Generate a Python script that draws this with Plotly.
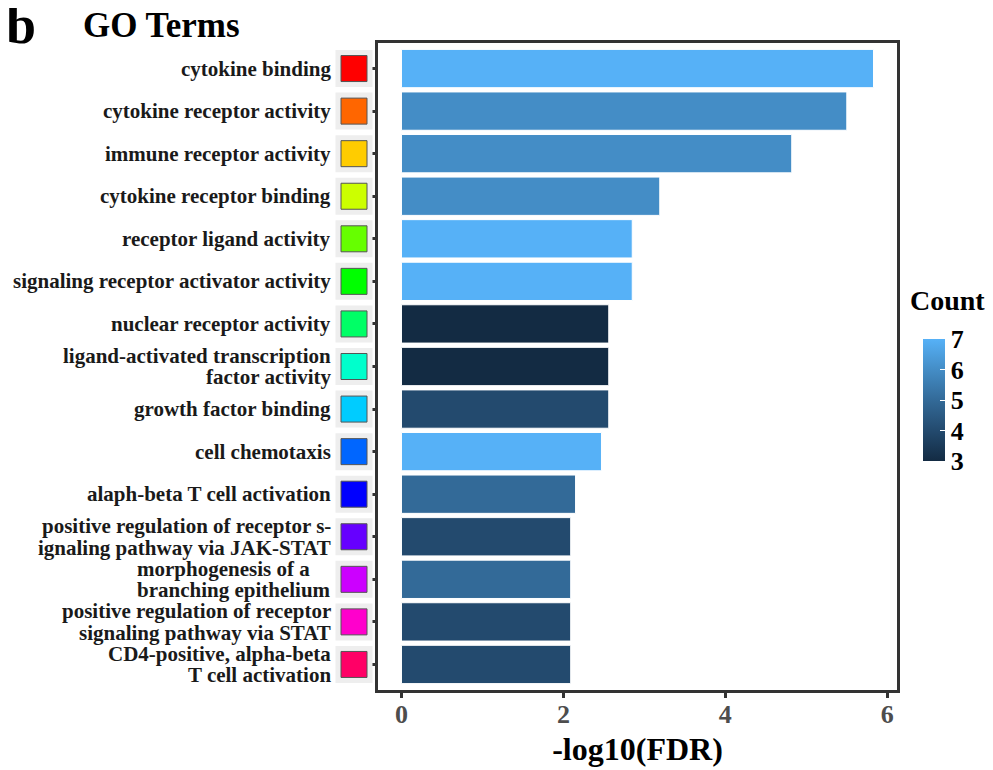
import plotly.graph_objects as go

terms = [
    "cytokine binding",
    "cytokine receptor activity",
    "immune receptor activity",
    "cytokine receptor binding",
    "receptor ligand activity",
    "signaling receptor activator activity",
    "nuclear receptor activity",
    "ligand-activated transcription<br>factor activity",
    "growth factor binding",
    "cell chemotaxis",
    "alaph-beta T cell activation",
    "positive regulation of receptor s-<br>ignaling pathway via JAK-STAT",
    "morphogenesis of a\u00a0\u00a0\u00a0\u00a0<br>branching epithelium",
    "positive regulation of receptor<br>signaling pathway via STAT",
    "CD4-positive, alpha-beta<br>T cell activation",
]
neg_log10_fdr = [5.83, 5.50, 4.82, 3.19, 2.85, 2.85, 2.56, 2.56, 2.56, 2.47, 2.15, 2.09, 2.09, 2.09, 2.09]
counts = [7, 6, 6, 6, 7, 7, 3, 3, 4, 7, 5, 4, 5, 4, 4]
term_colors = ["#FF0000", "#FF6600", "#FFCC00", "#CCFF00", "#66FF00", "#00FF00", "#00FF66",
               "#00FFCC", "#00CCFF", "#0066FF", "#0000FF", "#6600FF", "#CC00FF", "#FF00CC", "#FF0066"]
x_ticks = [0, 2, 4, 6]
count_ticks = [3, 4, 5, 6, 7]

# page offset (browser body margin) and figure size
OFF = 8
W, H = 993 - OFF, 770 - OFF
def px(x):
    return (x - OFF) / W
def py(y):
    return 1 - (y - OFF) / H

SERIF = "Liberation Serif, Times New Roman, serif"
colorscale = [[0, "#132B43"], [0.25, "#234A6E"], [0.5, "#336A98"], [0.75, "#448DC6"], [1, "#56B1F7"]]

fig = go.Figure()

fig.add_trace(go.Bar(
    x=neg_log10_fdr, y=terms, orientation="h", width=0.9,
    marker=dict(color=counts, colorscale=colorscale, cmin=3, cmax=7,
                line=dict(color="white", width=1),
                showscale=True,
                colorbar=dict(
                    x=px(923), xanchor="left", xpad=0,
                    y=py(400), yanchor="middle", ypad=0,
                    len=122, lenmode="pixels", thickness=22, thicknessmode="pixels",
                    outlinewidth=0, ticks="inside", ticklen=5, tickcolor="white", tickwidth=1,
                    tickvals=count_ticks,
                    tickfont=dict(family=SERIF, size=26, color="black", weight="bold"),
                )),
    xaxis="x", yaxis="y", showlegend=False, hoverinfo="x+y",
))

# grey key backgrounds
fig.add_trace(go.Scatter(
    x=[0.5] * len(terms), y=terms, mode="markers",
    marker=dict(symbol="square", size=37, color="#EEEEEE", line=dict(width=0)),
    xaxis="x2", yaxis="y2", showlegend=False, hoverinfo="skip",
))
# coloured keys
fig.add_trace(go.Scatter(
    x=[0.5] * len(terms), y=terms, mode="markers",
    marker=dict(symbol="square", size=26, color=term_colors, line=dict(width=1, color="#555555")),
    xaxis="x2", yaxis="y2", showlegend=False, hoverinfo="y",
))

frame = dict(showline=True, mirror=True, linecolor="#333333", linewidth=3,
             showgrid=False, zeroline=False)

# term labels (each line centred around its category, tight line spacing)
LINE_GAP = 21.5
annotations = []
for t in terms:
    lines = t.split("<br>")
    n = len(lines)
    for i, ln in enumerate(lines):
        annotations.append(dict(
            text=ln, x=px(333), xref="paper", y=t, yref="y2",
            xanchor="right", yanchor="middle", showarrow=False,
            yshift=-(i - (n - 1) / 2) * LINE_GAP,
            font=dict(family=SERIF, size=21, color="#1A1A1A", weight="bold"),
        ))

annotations += [
    dict(text="b", x=px(4), y=1, xref="paper", yref="paper",
         xanchor="left", yanchor="top", showarrow=False, yshift=15,
         font=dict(family=SERIF, size=54, color="black", weight="bold")),
    dict(text="GO Terms", x=px(81), y=py(26), xref="paper", yref="paper",
         xanchor="left", yanchor="middle", showarrow=False,
         font=dict(family=SERIF, size=35, color="black", weight="bold")),
    dict(text="Count", x=px(908), y=py(300), xref="paper", yref="paper",
         xanchor="left", yanchor="middle", showarrow=False,
         font=dict(family=SERIF, size=28, color="black", weight="bold")),
]

fig.update_layout(
    width=W, height=H,
    margin=dict(l=0, r=0, t=0, b=0),
    paper_bgcolor="white", plot_bgcolor="white",
    font=dict(family=SERIF),
    xaxis=dict(domain=[px(378), px(897)], range=[-0.29, 6.12], anchor="y",
               tickvals=x_ticks, ticks="outside", ticklen=5, tickwidth=3, tickcolor="#333333",
               ticklabelstandoff=-6,
               tickfont=dict(family=SERIF, size=26, color="#4D4D4D", weight="bold"),
               title=dict(text="-log10(FDR)", standoff=10,
                          font=dict(family=SERIF, size=32, color="black", weight="bold")),
               **frame),
    yaxis=dict(domain=[py(690), py(43)], anchor="x", type="category",
               categoryorder="array", categoryarray=terms, range=[14.6, -0.6],
               ticks="outside", ticklen=5, tickwidth=3, tickcolor="#333333",
               showticklabels=False, **frame),
    xaxis2=dict(domain=[px(334), px(374)], range=[0, 1], anchor="y2",
                visible=False, showgrid=False, zeroline=False),
    yaxis2=dict(domain=[py(690), py(43)], anchor="x2", type="category",
                categoryorder="array", categoryarray=terms, range=[14.6, -0.6],
                ticks="", showline=False, showgrid=False, zeroline=False,
                showticklabels=False),
    annotations=annotations,
)

fig.write_html("out.html")
